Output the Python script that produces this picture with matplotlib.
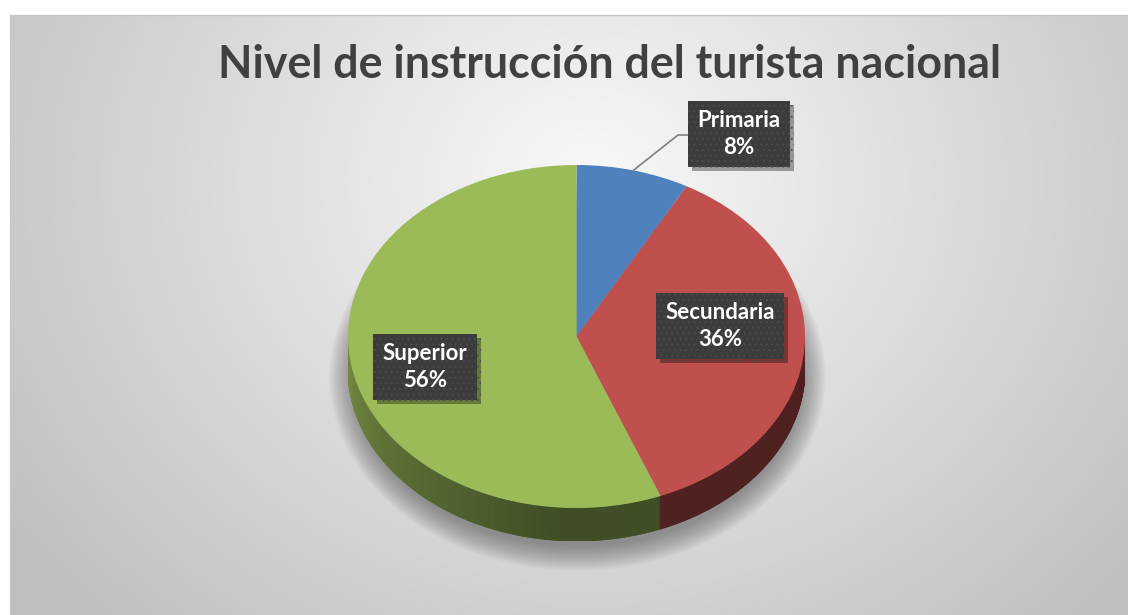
import numpy as np
import matplotlib
matplotlib.use("Agg")
import matplotlib.pyplot as plt
from matplotlib.collections import PolyCollection
from matplotlib.patches import Ellipse
import matplotlib.patheffects as pe
from matplotlib.colors import to_rgb

# data
categorias = ["Primaria", "Secundaria", "Superior"]
porcentajes = [8, 36, 56]
colores = ["#4f81bd", "#c0504d", "#9bbb59"]
titulo = "Nivel de instrucción del turista nacional"

W, H = 1128, 615
fig = plt.figure(figsize=(W / 100, H / 100), dpi=100)
fig.patch.set_facecolor("white")

# background axes in pixel coords
bg = fig.add_axes([0, 0, 1, 1])
bg.set_xlim(0, W)
bg.set_ylim(H, 0)
bg.axis("off")

# radial grey gradient of the chart area
x0, y0 = 10, 15
xx, yy = np.meshgrid(np.arange(x0, W), np.arange(y0, H))
r = np.sqrt(((xx - 590) / 600.0) ** 2 + ((yy - 180) / 520.0) ** 2)
v = 0.975 - 0.19 * np.clip(r, 0, 1.2)
img = np.dstack([v, v, v])
bg.imshow(img, extent=[x0, W, H, y0], interpolation="bilinear", zorder=0)
bg.plot([x0, W], [y0, y0], color="#c8c8c8", lw=1, zorder=1)
bg.plot([x0, x0], [y0, H], color="#c8c8c8", lw=1, zorder=1)

bg.text(609, 78, titulo, ha="center", va="baseline", fontsize=32.2,
        fontweight="bold", color="#404040", family="Lato", zorder=5)

# soft shadow under the pie
cxp, cyp = 576.5, 336.5
for k in range(16):
    bg.add_patch(Ellipse((cxp + 1, cyp + 40), 2 * (224 + k * 1.6), 2 * (170 + k * 1.6),
                         facecolor="#505050", alpha=0.045, lw=0, zorder=1))

# pie axes: unit circle mapped onto the tilted ellipse
rx, ry = 228.5, 171.5
depth = 33 / ry
left, right = cxp - rx, cxp + rx
top, bottom = cyp - ry, cyp + ry + 33
pax = fig.add_axes([left / W, 1 - bottom / H, (right - left) / W, (bottom - top) / H])

frac = np.array(porcentajes) / sum(porcentajes)
bounds = 90 - 360 * np.concatenate([[0], np.cumsum(frac)])

# side of the pie (front half)
th = np.linspace(-180, 0, 361)
polys, fcs = [], []
for a1, a2 in zip(th[:-1], th[1:]):
    am = 0.5 * (a1 + a2)
    ang = am % 360
    idx = 0
    for i in range(len(frac)):
        hi = bounds[i] % 360 if bounds[i] % 360 != 0 else 360
        lo = bounds[i + 1] % 360
        if lo <= hi:
            if lo <= ang < hi:
                idx = i
        else:
            if ang >= lo or ang < hi:
                idx = i
    t1, t2 = np.radians(a1), np.radians(a2)
    polys.append([(np.cos(t1), np.sin(t1)), (np.cos(t2), np.sin(t2)),
                  (np.cos(t2), np.sin(t2) - depth), (np.cos(t1), np.sin(t1) - depth)])
    f = np.interp(am, [-180, -150, -95, 0], [0.76, 0.62, 0.42, 0.4])
    fcs.append(tuple(np.array(to_rgb(colores[idx])) * f))
pax.add_collection(PolyCollection(polys, facecolors=fcs, edgecolors=fcs, lw=0.6, zorder=1))

wedges, _ = pax.pie(frac, colors=colores, startangle=90, counterclock=False,
                    wedgeprops=dict(linewidth=0, zorder=2))
pax.set_aspect("auto")
pax.set_xlim(-1, 1)
pax.set_ylim(-1 - depth, 1)
pax.axis("off")

# overlay for labels
ov = fig.add_axes([0, 0, 1, 1])
ov.set_xlim(0, W)
ov.set_ylim(H, 0)
ov.axis("off")
ov.patch.set_alpha(0)

plt.rcParams["hatch.linewidth"] = 0.6
lab_pos = [(739, 134), (720, 326), (425, 367)]
for i, (nom, p) in enumerate(zip(categorias, porcentajes)):
    t = ov.text(lab_pos[i][0], lab_pos[i][1], f"{nom}\n{p}%", ha="center", va="center",
                fontsize=16, fontweight="bold", color="white", family="Lato",
                linespacing=1.3, zorder=6,
                bbox=dict(boxstyle="square,pad=0.42", facecolor="#3c3c3c",
                          edgecolor="#4c4c4c", linewidth=0, hatch="..."))
    t.get_bbox_patch().set_path_effects([
        pe.SimplePatchShadow(offset=(3, -3), shadow_rgbFace="#000000", alpha=0.35),
        pe.Normal()])

# leader line for Primaria
mid = np.radians(0.5 * (bounds[0] + bounds[1]))
sx, sy = cxp + rx * np.cos(mid), cyp - ry * np.sin(mid)
ov.plot([sx, 678, 688], [sy, 135, 135], color="#7f7f7f", lw=1.2, zorder=4)

fig.savefig("out.png", dpi=100)
